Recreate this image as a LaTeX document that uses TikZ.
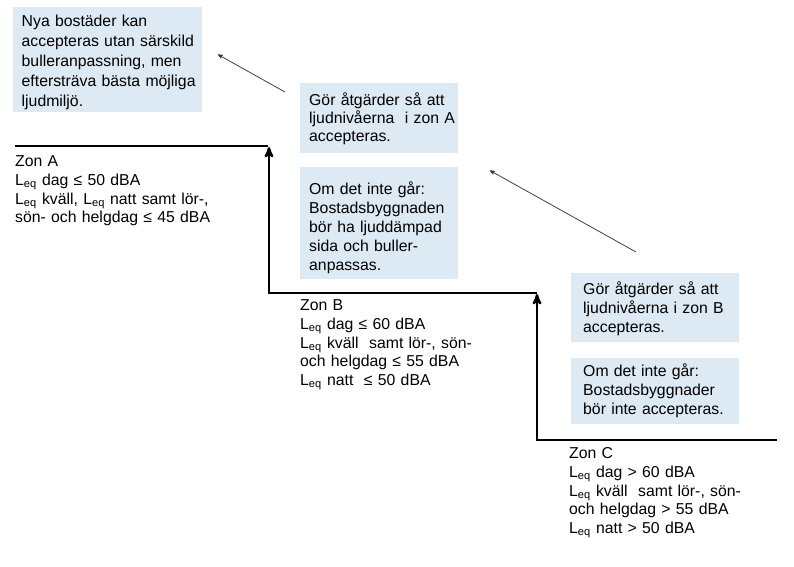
\documentclass[tikz,border=0pt]{standalone}
\usepackage{fontspec}
\setmainfont{Liberation Sans}
\usetikzlibrary{arrows}

\definecolor{boxblue}{RGB}{221,233,243}
\newcommand{\Leq}{L\textsubscript{eq}}

\begin{document}
\begin{tikzpicture} [x=1pt,y=-1pt,>=stealth',shorten >=1pt,
	font=\fontsize{15.8}{19}\selectfont,
	info box/.style={rectangle,fill=boxblue,anchor=north west,align=left,inner ysep=0pt},
	zone text/.style={anchor=base west,align=left,inner sep=0pt,text width=240pt,
		font=\fontsize{15.8}{18.8}\selectfont},
	step line/.style={line width=2.4pt,line join=miter},
	thin arrow/.style={->,draw=black!75,line width=0.8pt}]

	\useasboundingbox (0,0) rectangle (794,566);

	\node[info box,inner xsep=8.5pt,text width=172pt,text height=19.5pt,text depth=85.5pt,
		font=\fontsize{15.8}{20}\selectfont] (nya) at (13,7)
		{Nya bostäder kan\\accepteras~utan~särskild\\bulleranpassning,~men\\eftersträva~bästa~möjliga\\ljudmiljö.};
	\node[info box,inner xsep=9pt,text width=140pt,text height=22.5pt,text depth=47.5pt,
		font=\fontsize{15.8}{18}\selectfont] (atgA) at (300,83)
		{Gör~åtgärder~så~att\\ljudnivåerna~~i~zon~A\\accepteras.};
	\node[info box,inner xsep=9pt,text width=140pt,text height=27.5pt,text depth=84.5pt] (omA) at (300,167)
		{Om det inte går:\\Bostadsbyggnaden\\bör ha ljuddämpad\\sida och buller-\\anpassas.};
	\node[info box,inner xsep=12pt,text width=144pt,text height=21.5pt,text depth=47.5pt] (atgB) at (571,273)
		{Gör åtgärder så att\\ljudnivåerna i zon B\\accepteras.};
	\node[info box,inner xsep=12pt,text width=144pt,text height=18.5pt,text depth=47.5pt] (omB) at (571,358)
		{Om det inte går:\\Bostadsbyggnader\\bör inte accepteras.};

	\node[zone text] (zonA) at (15,166.5)
		{Zon A\\ \Leq{} dag ≤ 50 dBA\\ \Leq{} kväll, \Leq{} natt samt lör-,\\sön- och helgdag ≤ 45 dBA};
	\node[zone text] (zonB) at (300,310.5)
		{Zon B\\ \Leq{} dag ≤ 60 dBA\\ \Leq{} kväll\ \ samt lör-, sön-\\och helgdag ≤ 55 dBA\\ \Leq{} natt\ \ ≤ 50 dBA};
	\node[zone text] (zonC) at (569,458.5)
		{Zon C\\ \Leq{} dag > 60 dBA\\ \Leq{} kväll\ \ samt lör-, sön-\\och helgdag > 55 dBA\\ \Leq{} natt > 50 dBA};

	% steps between the zones
	\coordinate (a0) at (15,146);
	\coordinate (a1) at (269,146);
	\coordinate (b0) at (269,293);
	\coordinate (b1) at (537,293);
	\coordinate (c0) at (537,440);
	\coordinate (c1) at (777,440);
	\draw[step line] (a0) -- (a1);
	\draw[step line,->] (b1) -- (b0) -- (a1);
	\draw[step line,->] (c1) -- (c0) -- (b1);

	% thin arrows up the steps
	\coordinate (p0) at (285,92);
	\coordinate (p1) at (217,54);
	\coordinate (q0) at (636,252);
	\coordinate (q1) at (489,170);
	\draw[thin arrow] (p0) -- (p1);
	\draw[thin arrow] (q0) -- (q1);
\end{tikzpicture}
\end{document}
